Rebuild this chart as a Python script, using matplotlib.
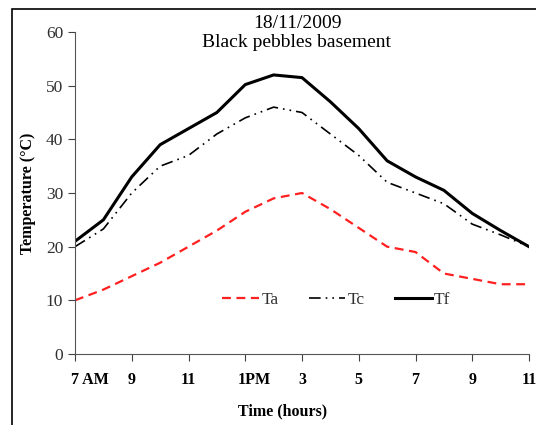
import matplotlib.pyplot as plt
from matplotlib.patches import Rectangle
from matplotlib.transforms import ScaledTranslation

# hours from 7 AM to 11 PM
hours = list(range(7, 24))
ta = [10, 12, 14.5, 17, 20, 23, 26.5, 29, 30, 27, 23.5, 20, 19, 15, 14, 13, 13]
tc = [20, 23.3, 30, 35, 37, 41, 44, 46, 45, 41, 37, 32, 30, 28, 24.2, 22.2, 20]
tf = [21, 25, 33, 39, 42, 45, 50.2, 52, 51.5, 47, 42, 36, 33, 30.5, 26.2, 23, 20]
tick_pos = [7, 9, 11, 13, 15, 17, 19, 21, 23]
tick_labels = ["7 AM", "9", "11", "1PM", "3", "5", "7", "9", "11"]

plt.rcParams['font.family'] = ['Liberation Serif', 'DejaVu Serif']

fig = plt.figure(figsize=(5.36, 4.25), dpi=100)
ax = fig.add_axes([75 / 536, 1 - 354 / 425, (529 - 75) / 536, (354 - 32) / 425])

ax.plot(hours, ta, color="#ff2020", linewidth=1.6, linestyle=(0, (4, 2.5)), label="Ta")
ax.plot(hours, tc, color="black", linewidth=1.2, linestyle=(0, (7, 3, 1, 3, 1, 3)), label="Tc")
ax.plot(hours, tf, color="black", linewidth=2.2, label="Tf")

ax.set_xlim(7, 23)
ax.set_ylim(0, 60)
ax.set_yticks(range(0, 61, 10))
ax.set_xticks(tick_pos)
ax.set_xticklabels(tick_labels, fontweight="bold")
ax.tick_params(axis="both", colors="#404040", direction="out", length=5)
ax.tick_params(axis="x", pad=8, labelcolor="black", labelsize=11.5)
ax.tick_params(axis="y", labelcolor="#303030", labelsize=12.5)

# Excel-like label placement: first label and 1PM sit to the right of their ticks
xlabels = ax.get_xticklabels()
shifts = {0: 15, 3: 9}
for i, px in shifts.items():
    lab = xlabels[i]
    lab.set_transform(lab.get_transform() + ScaledTranslation(px / 100, 0, fig.dpi_scale_trans))

for side in ["top", "right"]:
    ax.spines[side].set_visible(False)
for side in ["left", "bottom"]:
    ax.spines[side].set_color("#555555")

ax.set_xlabel("Time (hours)", fontsize=11.5, fontweight="bold")
ax.xaxis.set_label_coords((283 - 75) / 454, -(403 - 354) / 322)
ax.set_ylabel("Temperature (°C)", fontsize=11.5, fontweight="bold")
ax.yaxis.set_label_coords(-(75 - 36) / 454, (354 - 193) / 322)

ax.text((297 - 75) / 454, 1 + (32 - 15) / 322, "18/11/2009\nBlack pebbles basement",
        transform=ax.transAxes, ha="center", va="top", fontsize=14, linespacing=1.15)

leg = ax.legend(loc="center", bbox_to_anchor=(0.576, 0.167), ncol=3, frameon=False,
                fontsize=12.5, handlelength=2.1, columnspacing=1.74, handletextpad=0.15)
for t in leg.get_texts():
    t.set_color("#303030")

# figure border
fig.patches.append(Rectangle((12 / 536, -0.02), 1.05, 1 - 9 / 425 + 0.02,
                             transform=fig.transFigure, fill=False,
                             edgecolor="black", linewidth=1.2, clip_on=False))

fig.savefig("out.png", dpi=100)
